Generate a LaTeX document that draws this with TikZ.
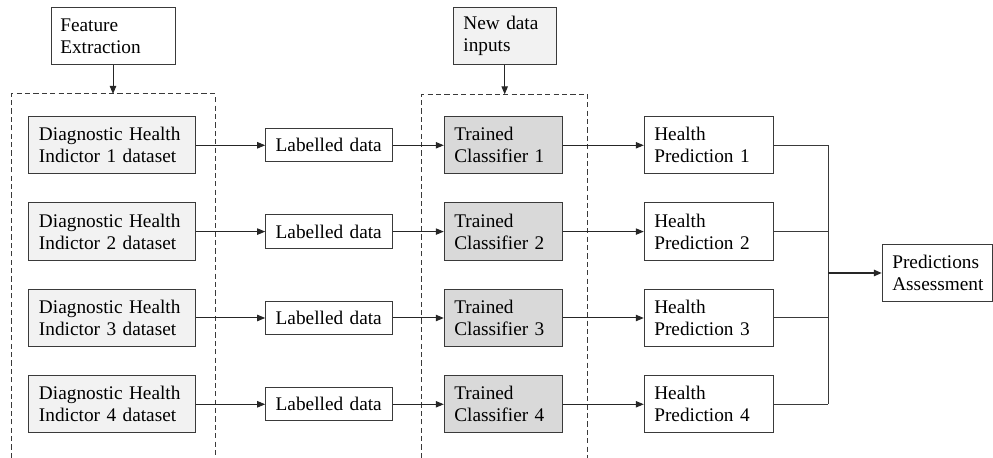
\documentclass[tikz,border=0pt]{standalone}
\usepackage{fontspec}
\setmainfont{Liberation Serif}
\usetikzlibrary{arrows.meta}
\definecolor{lightfill}{HTML}{F2F2F2}
\definecolor{darkfill}{HTML}{D9D9D9}
\definecolor{edge}{HTML}{3A3A3A}
\begin{document}
\begin{tikzpicture}[x=0.5pt,y=-0.5pt,
  every node/.style={font=\fontsize{9.65}{11}\selectfont},
  base/.style={draw=edge, line width=0.5pt, rectangle, align=left, inner ysep=0pt, inner xsep=5pt},
  topbox/.style={base, minimum height=28.7pt},
  dsbox/.style={base, fill=lightfill, minimum height=28.7pt, text width=73pt, inner xsep=5.15pt},
  labbox/.style={base, fill=white, minimum height=16.7pt, text width=53.5pt},
  clsbox/.style={base, fill=darkfill, minimum height=28.7pt, text width=49pt},
  predbox/.style={base, fill=white, minimum height=28.7pt, text width=54.5pt},
  group/.style={draw=edge, line width=0.5pt, dash pattern=on 2.6pt off 1.6pt},
  link/.style={draw=black!85, line width=0.5pt, -{Triangle[length=4pt,width=3.2pt]}},
  bus/.style={draw=edge, line width=0.5pt}
]
\useasboundingbox (0,0) rectangle (993,458);

% dashed group frames, open at the bottom
\draw[group] (11,458) -- (11,94) -- (215,94) -- (215,458);
\draw[group] (421.7,458) -- (421.7,94.3) -- (587.7,94.3) -- (587.7,458);
\coordinate (g1top) at (113,94);
\coordinate (g2top) at (504.7,94.3);

% input boxes above the groups
\node[topbox, fill=white, text width=52.7pt, inner xsep=4.65pt] (fe) at (113,36) {Feature\\Extraction};
\node[topbox, fill=lightfill, text width=41.3pt, minimum height=28.4pt] (ndi) at (504.7,35.7) {New data\\inputs};
\draw[link] (fe.south) -- (g1top);
\draw[link] (ndi.south) -- (g2top);

% one row per health indicator
\foreach \i/\y in {1/145.3, 2/231.6, 3/318, 4/404.3} {
  \node[dsbox]   (ds\i)  at (112,\y)   {Diagnostic Health\\Indictor \i\ dataset};
  \node[labbox]  (lab\i) at (329.2,\y) {Labelled data};
  \node[clsbox]  (cls\i) at (503.3,\y) {Trained\\Classifier \i};
  \node[predbox] (hp\i)  at (708.8,\y) {Health\\Prediction \i};
  \draw[link] (ds\i.east) -- (lab\i.west);
  \draw[link] (lab\i.east) -- (cls\i.west);
  \draw[link] (cls\i.east) -- (hp\i.west);
  \coordinate (j\i) at (828,\y);
  \draw[bus] (hp\i.east) -- (j\i);
}
\draw[bus] (j1) -- (j4);

% final assessment
\node[topbox, fill=white, text width=45.2pt] (pa) at (937.5,273) {Predictions\\Assessment};
\coordinate (jout) at (828,273);
\draw[link, line width=0.8pt] (jout) -- (pa.west);
\end{tikzpicture}
\end{document}
